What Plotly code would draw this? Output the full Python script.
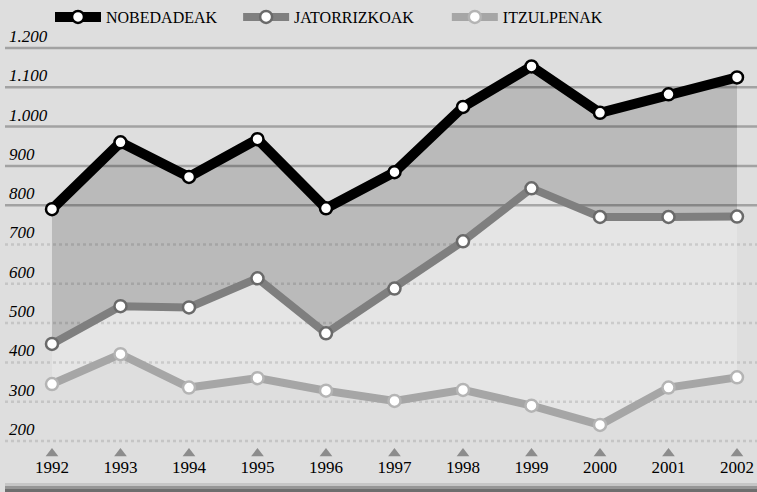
import plotly.graph_objects as go

years = [1992, 1993, 1994, 1995, 1996, 1997, 1998, 1999, 2000, 2001, 2002]
nobedadeak = [790, 960, 872, 968, 792, 884, 1050, 1153, 1035, 1082, 1125]
jatorrizkoak = [447, 543, 540, 614, 474, 588, 708, 843, 770, 770, 771]
itzulpenak = [345, 421, 336, 360, 328, 302, 330, 290, 241, 336, 362]

series_names = ["NOBEDADEAK", "JATORRIZKOAK", "ITZULPENAK"]
y_ticks = [200, 300, 400, 500, 600, 700, 800, 900, 1000, 1100, 1200]
y_tick_labels = ["200", "300", "400", "500", "600", "700", "800", "900", "1.000", "1.100", "1.200"]
x_tick_labels = [str(y) for y in years]

BG = "#dedede"
SERIF = "Liberation Serif, Times New Roman, serif"

x_range = [1991.314, 2002.292]
y_range = [164.4, 1322.1]
PLOT_H = 455.0

fig = go.Figure()

# fills (drawn first, beneath gridlines)
fig.add_trace(go.Scatter(x=years, y=itzulpenak, mode="lines", line=dict(width=0),
                         showlegend=False, hoverinfo="skip"))
fig.add_trace(go.Scatter(x=years, y=jatorrizkoak, mode="lines", line=dict(width=0),
                         fill="tonexty", fillcolor="#e5e5e5", showlegend=False, hoverinfo="skip"))
fig.add_trace(go.Scatter(x=years, y=nobedadeak, mode="lines", line=dict(width=0),
                         fill="tonexty", fillcolor="#bababa", showlegend=False, hoverinfo="skip"))

# gridlines (above fills, below lines)
for v in y_ticks:
    solid = v >= 800
    fig.add_trace(go.Scatter(
        x=x_range, y=[v, v], mode="lines", showlegend=False, hoverinfo="skip",
        line=dict(color="rgba(0,0,0,0.27)" if solid else "rgba(0,0,0,0.11)",
                  width=2.5,
                  dash="solid" if solid else "3px,3px")))

# small pyramid tick markers
fig.add_trace(go.Scatter(x=years, y=[168] * len(years), mode="markers", cliponaxis=False,
                         marker=dict(symbol="triangle-up", size=11, color="#8c8c8c"),
                         showlegend=False, hoverinfo="skip"))

styles = [
    (nobedadeak, "#000000", 10, "#000000", 1, 4),
    (jatorrizkoak, "#7f7f7f", 8, "#6a6a6a", 2, 7),
    (itzulpenak, "#a6a6a6", 8, "#b4b4b4", 3, 0),
]
for (vals, col, w, mcol, rank, pad), name in reversed(list(zip(styles, series_names))):
    fig.add_trace(go.Scatter(
        x=years, y=vals, name=name + "\u00a0" * pad, mode="lines+markers", legendrank=rank,
        line=dict(color=col, width=w),
        marker=dict(symbol="circle", size=12, color="white", line=dict(color=mcol, width=2.5)),
        cliponaxis=False))

# bottom band (pixel rows 483..492 below the plot)
band = [(483, 486, "#c6c6c6"), (486, 489, "#969696"), (489, 492.5, "#6e6e6e")]
for p0, p1, c in band:
    fig.add_shape(type="rect", xref="paper", yref="paper", x0=0, x1=1,
                  y0=(PLOT_H - p0) / PLOT_H, y1=(PLOT_H - p1) / PLOT_H,
                  fillcolor=c, line=dict(width=0), layer="above")

fig.update_layout(
    width=757, height=492,
    paper_bgcolor=BG, plot_bgcolor=BG,
    margin=dict(l=5, r=0, t=0, b=37),
    font=dict(family=SERIF, color="#000000"),
    showlegend=True,
    legend=dict(orientation="h", x=(50 - 5) / 752, xref="paper", y=1.0, yref="paper",
                yanchor="top", xanchor="left", bgcolor="rgba(0,0,0,0)",
                font=dict(family=SERIF, size=16, color="#000000"),
                itemwidth=46, traceorder="normal"),
    xaxis=dict(range=x_range, tickvals=years, ticktext=x_tick_labels, showgrid=False,
               zeroline=False, showline=False, ticks="",
               tickfont=dict(family=SERIF, size=17, color="#000000")),
    yaxis=dict(range=y_range, tickvals=y_ticks, ticktext=y_tick_labels, showgrid=False,
               zeroline=False, showline=False, ticks="",
               ticklabelposition="inside", ticklabelshift=-12, ticklabelstandoff=1,
               tickfont=dict(family=SERIF, size=17, color="#000000", style="italic")),
)

fig.write_html("out.html", config={"displayModeBar": False},
               post_script="document.body.style.margin='0';")
